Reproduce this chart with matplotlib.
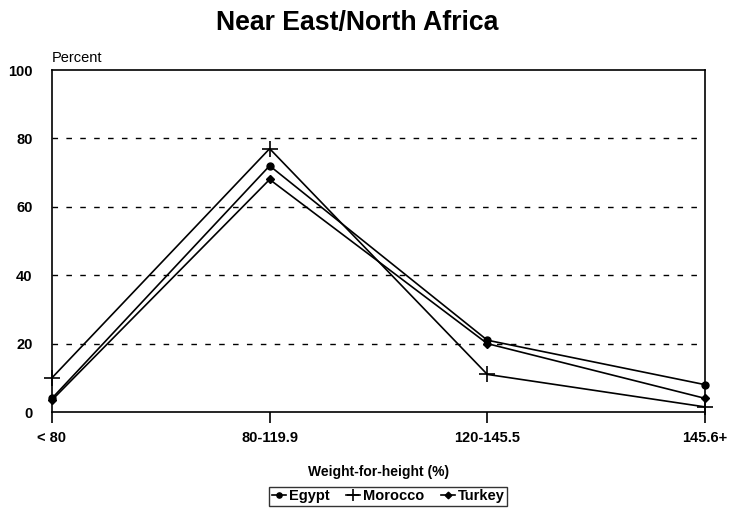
import matplotlib
matplotlib.use("Agg")
import matplotlib.pyplot as plt

categories = ["< 80", "80-119.9", "120-145.5", "145.6+"]
egypt = [4, 72, 21, 8]
morocco = [10, 77, 11, 1.5]
turkey = [3.5, 68, 20, 4]
yticks = [0, 20, 40, 60, 80, 100]

plt.rcParams['font.family'] = ['Liberation Sans', 'DejaVu Sans']

fig = plt.figure(figsize=(7.31, 5.11), dpi=100)
ax = fig.add_axes([0.0711, 0.1937, 0.8933, 0.6693])

x = list(range(len(categories)))
ax.plot(x, egypt, color='black', lw=1.2, marker='o', ms=5, label='Egypt', clip_on=False)
ax.plot(x, morocco, color='black', lw=1.2, marker='+', ms=11, mew=1.2, label='Morocco', clip_on=False)
ax.plot(x, turkey, color='black', lw=1.2, marker='D', ms=4.5, label='Turkey', clip_on=False)

ax.set_xlim(0, len(categories) - 1)
ax.set_ylim(0, 100)
ax.set_xticks(x)
ax.set_xticklabels(categories, fontsize=10.5, fontweight='bold')
ax.set_yticks(yticks)
ax.set_yticklabels([str(v) for v in yticks], fontsize=10.5, fontweight='bold')
ax.tick_params(axis='x', direction='out', length=8, width=1.2, pad=6)
ax.tick_params(axis='y', length=0, pad=14)
for s in ax.spines.values():
    s.set_linewidth(1.2)
for v in yticks[1:-1]:
    ax.axhline(v, color='black', lw=1.0, ls=(0, (4, 6)), zorder=0)

ax.set_xlabel("Weight-for-height (%)", fontsize=10, fontweight='bold', labelpad=14)
ax.text(0.0, 1.015, "Percent", transform=ax.transAxes, fontsize=10.5, ha='left', va='bottom')
fig.text(0.489, 0.955, "Near East/North Africa", ha='center', va='center',
         fontsize=19.2, fontweight='bold')

leg = ax.legend(loc='upper center', bbox_to_anchor=(0.515, -0.22), ncol=3, frameon=True,
                fancybox=False, edgecolor='black',
                prop={'weight': 'bold', 'size': 10.5},
                handlelength=1.0, handletextpad=0.2, columnspacing=1.1, borderpad=0.15,
                borderaxespad=0, markerscale=0.75)
leg.get_frame().set_linewidth(1.0)

fig.savefig("out.png", dpi=100)
